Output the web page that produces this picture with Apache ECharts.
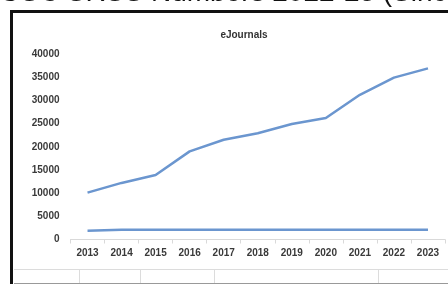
<!DOCTYPE html>
<html>
<head>
<meta charset="utf-8">
<script src="https://cdn.jsdelivr.net/npm/echarts@6/dist/echarts.min.js"></script>
<style>
    html, body { margin: 0; padding: 0; background: #fff; }
    #chart { width: 448px; height: 284px; }
</style>
</head>
<body>
<div id="chart"></div>
<script>
const years = ['2013', '2014', '2015', '2016', '2017', '2018', '2019', '2020', '2021', '2022', '2023'];
const eJournalsMain = [10100, 12200, 13900, 19000, 21500, 22900, 24900, 26200, 31200, 34900, 36900];
const eJournalsOther = [1900, 2100, 2100, 2100, 2100, 2100, 2100, 2100, 2100, 2100, 2100];

const lineColor = '#6b96cf';
const labelFont = {
    fontFamily: 'Liberation Sans',
    fontSize: 10,
    fontWeight: 'bold',
    color: '#3a3a3a',
};

const chart = echarts.init(document.getElementById('chart'));

// page furniture around the embedded chart: cut-off heading, frame, table lines
const furniture = [
    {
        type: 'text',
        left: 0,
        top: -21,
        silent: true,
        style: {
            text: 'USC SRSS Numbers 2022-23 (Since',
            font: '28px "Liberation Sans"',
            fill: '#111',
        },
    },
    { type: 'line', shape: { x1: 10, y1: 11.5, x2: 448, y2: 11.5 }, style: { stroke: '#111', lineWidth: 3 } },
    { type: 'line', shape: { x1: 11.5, y1: 10, x2: 11.5, y2: 284 }, style: { stroke: '#111', lineWidth: 3 } },
    { type: 'line', shape: { x1: 14, y1: 269.5, x2: 448, y2: 269.5 }, style: { stroke: '#dcdcdc', lineWidth: 1 } },
    { type: 'line', shape: { x1: 14, y1: 283.5, x2: 448, y2: 283.5 }, style: { stroke: '#999', lineWidth: 1 } },
];
[79.5, 140.5, 214.5, 378.5].forEach(function (x) {
    furniture.push({ type: 'line', shape: { x1: x, y1: 270, x2: x, y2: 283 }, style: { stroke: '#dcdcdc', lineWidth: 1 } });
});

const option = {
    animation: false,
    backgroundColor: '#fff',
    title: {
        text: 'eJournals',
        left: 239,
        top: 25,
        textAlign: 'center',
        textStyle: {
            fontFamily: 'Liberation Sans',
            fontSize: 10,
            fontWeight: 'bold',
            color: '#333',
        },
    },
    grid: {
        left: 70.5,
        right: 3,
        top: 54,
        bottom: 44.5,
    },
    xAxis: {
        type: 'category',
        data: years,
        boundaryGap: true,
        axisLine: { lineStyle: { color: '#d9d9d9', width: 1 } },
        axisTick: { show: true, length: 4, lineStyle: { color: '#d9d9d9' } },
        axisLabel: Object.assign({ margin: 9, interval: 0 }, labelFont),
        splitLine: { show: false },
    },
    yAxis: {
        type: 'value',
        min: 0,
        max: 40000,
        interval: 5000,
        axisLine: { show: false },
        axisTick: { show: false },
        splitLine: { show: false },
        axisLabel: Object.assign({
            margin: 11,
            formatter: function (v) { return String(v); },
        }, labelFont),
    },
    series: [
        {
            name: 'eJournals',
            type: 'line',
            data: eJournalsMain,
            symbol: 'none',
            lineStyle: { color: lineColor, width: 2.5 },
        },
        {
            name: 'other',
            type: 'line',
            data: eJournalsOther,
            symbol: 'none',
            lineStyle: { color: lineColor, width: 2.5 },
        },
    ],
    graphic: furniture,
};

chart.setOption(option);
</script>
</body>
</html>
